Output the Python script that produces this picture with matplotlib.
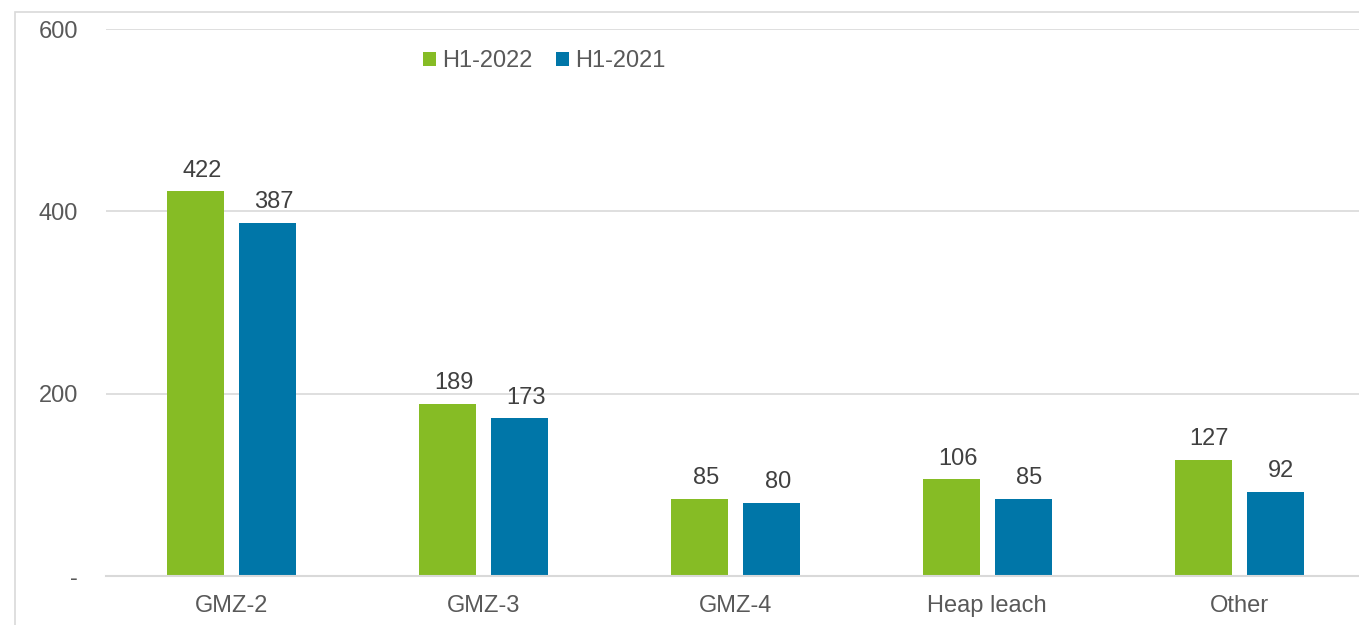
import matplotlib.pyplot as plt
import numpy as np
from matplotlib.patches import Rectangle

plt.rcParams['font.family'] = ['Liberation Sans', 'DejaVu Sans']

# data
categories = ['GMZ-2', 'GMZ-3', 'GMZ-4', 'Heap leach', 'Other']
h1_2022 = [422, 189, 85, 106, 127]
h1_2021 = [387, 173, 80, 85, 92]
series_names = ['H1-2022', 'H1-2021']
colors = ['#86BC25', '#0076A8']

W, H = 1359, 625
fig = plt.figure(figsize=(W / 100, H / 100), dpi=100)

# light frame around the chart area
fig.patches.append(Rectangle((15 / W, -0.1), 1.2, 1 - 12 / H + 0.1,
                             transform=fig.transFigure, fill=False,
                             edgecolor='#d9d9d9', linewidth=1.2))

ax = fig.add_axes([106 / W, 1 - 576 / H, (1365 - 106) / W, (576 - 29) / H])

x = np.arange(len(categories))
bw = 0.226
off = 0.143
b1 = ax.bar(x - off, h1_2022, bw, color=colors[0], label=series_names[0])
b2 = ax.bar(x + off, h1_2021, bw, color=colors[1], label=series_names[1])

for bars in (b1, b2):
    for r in bars:
        ax.annotate(f'{int(r.get_height())}',
                    (r.get_x() + r.get_width() / 2, r.get_height()),
                    xytext=(4.5, 7), textcoords='offset points',
                    ha='center', va='bottom', fontsize=17, color='#404040')

ax.set_xlim(-0.5, len(categories) - 0.5)
ax.set_ylim(0, 600)
ax.set_yticks([0, 200, 400, 600])
ax.set_yticklabels(['-', '200', '400', '600'])
ax.set_xticks(x)
ax.set_xticklabels(categories)
ax.tick_params(axis='both', length=0, labelsize=17, labelcolor='#595959')
ax.tick_params(axis='y', pad=20)
ax.tick_params(axis='x', pad=14)

ax.grid(axis='y', color='#d9d9d9', linewidth=1.2)
ax.set_axisbelow(True)
for s in ['top', 'right', 'left']:
    ax.spines[s].set_visible(False)
ax.spines['bottom'].set_color('#d9d9d9')
ax.spines['bottom'].set_linewidth(1.5)

ax.legend(loc='upper center', bbox_to_anchor=((544 - 106) / (1365 - 106), 1.0),
          ncol=2, frameon=False, fontsize=17, handlelength=0.55, handleheight=0.55,
          handletextpad=0.25, columnspacing=1.0, labelcolor='#595959')

fig.savefig('out.png', dpi=100)
